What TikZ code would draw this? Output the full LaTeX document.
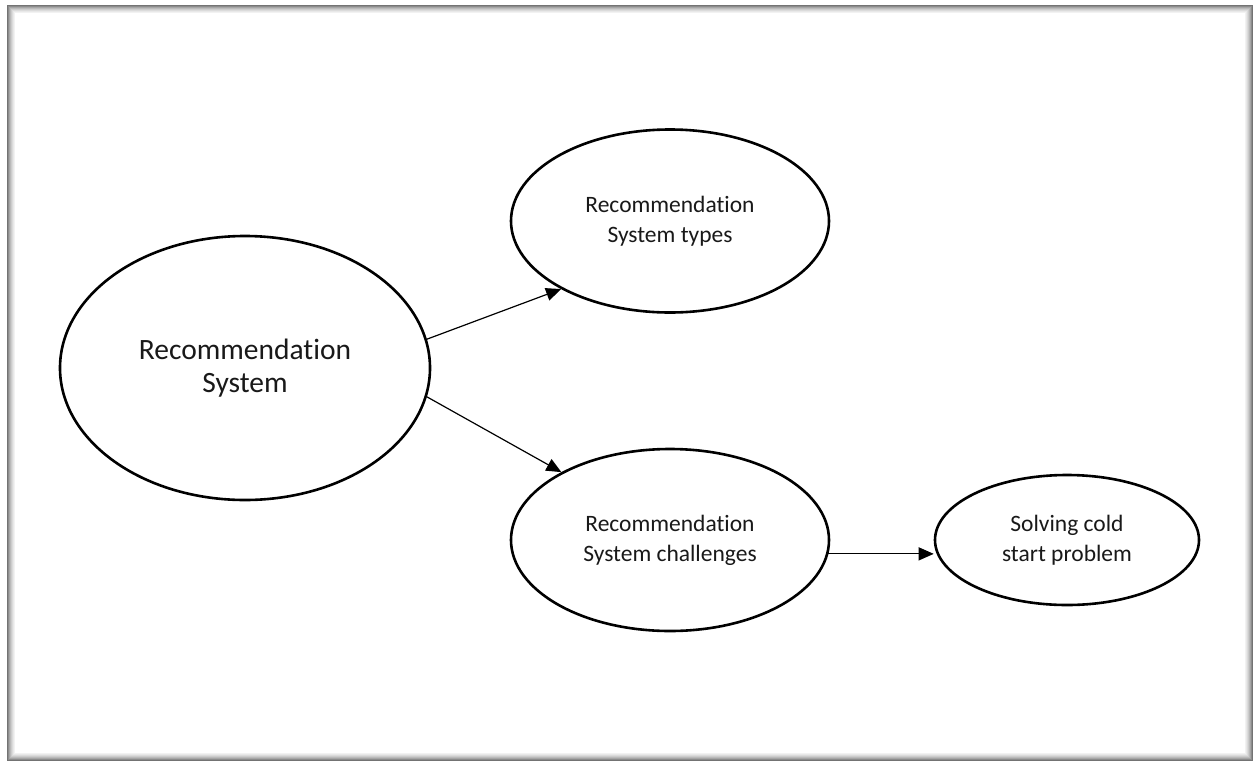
\documentclass[tikz,border=0pt]{standalone}
\usepackage{fontspec}
\setmainfont{Carlito}[Ligatures={NoCommon,NoRequired,NoContextual,NoDiscretionary}]
\usetikzlibrary{shapes.geometric,arrows.meta}
\begin{document}
\begin{tikzpicture}[x=1pt,y=-1pt,
  ell/.style={draw=black,line width=2.6pt,ellipse,inner sep=0pt,align=center,text=black!90},
  arr/.style={draw=black,line width=1.2pt,-{Triangle[length=15pt,width=13pt]}}]
\useasboundingbox (0,0) rectangle (1253,761);
\fill[white] (0,0) rectangle (1253,761);
% inset shadow frame
\foreach \i/\c in {0/55,1/45,2/35,3/27,4/20,5/14,6/9,7/5}{
  \draw[black!\c,line width=1pt] (7.5+\i,5.5+\i) rectangle (1252.5-\i,760.5-\i);
}
\node[ell,minimum width=370pt,minimum height=264pt,font=\fontsize{29.5}{33}\selectfont] (big) at (245,368) {Recommendation\\System};
\node[ell,minimum width=318pt,minimum height=183pt,font=\fontsize{23.5}{30}\selectfont] (types) at (670,221) {Recommendation\\System types};
\node[ell,minimum width=318pt,minimum height=182pt,font=\fontsize{23.5}{30}\selectfont] (chal) at (670,540) {Recommendation\\System challenges};
\node[ell,minimum width=264pt,minimum height=130pt,font=\fontsize{23.5}{30}\selectfont] (cold) at (1067,540) {Solving cold\\start problem};
\draw[arr] (big.9) -- (types.212);
\draw[arr] (big.-9) -- (chal.148);
\draw[arr] (chal.-5) -- (chal.-5 -| cold.west);
\end{tikzpicture}
\end{document}
